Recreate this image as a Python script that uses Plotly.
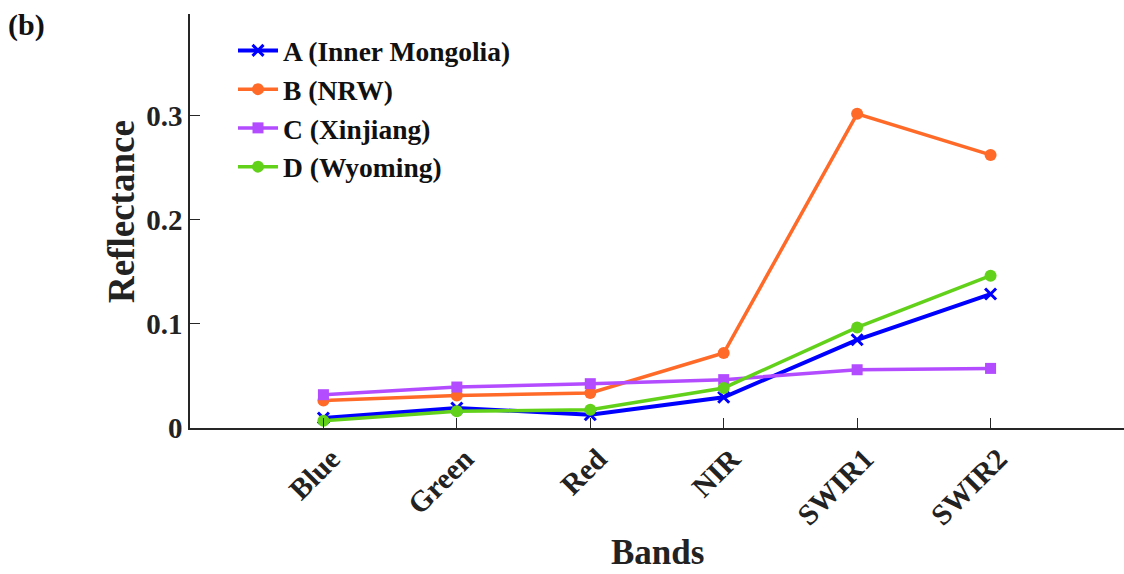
import plotly.graph_objects as go

# Landsat-style band names along the x axis
bands = ["Blue", "Green", "Red", "NIR", "SWIR1", "SWIR2"]
band_pos = [1, 2, 3, 4, 5, 6]

# Mean surface reflectance per band for each study site
site_a = [0.0096, 0.0192, 0.0128, 0.0295, 0.0848, 0.1288]
site_b = [0.0265, 0.0313, 0.0337, 0.0721, 0.3020, 0.2625]
site_c = [0.0320, 0.0394, 0.0426, 0.0465, 0.0560, 0.0573]
site_d = [0.0070, 0.0160, 0.0176, 0.0385, 0.0967, 0.1464]

site_names = ["A (Inner Mongolia)", "B (NRW)", "C (Xinjiang)", "D (Wyoming)"]
y_ticks = [0, 0.1, 0.2, 0.3]
y_tick_text = ["0", "0.1", "0.2", "0.3"]

FONT = "Liberation Serif, Times New Roman, serif"

styles = [
    dict(color="#0000FF", symbol="x-thin", size=11, width=4),
    dict(color="#FF6A28", symbol="circle", size=12, width=3.5),
    dict(color="#B34BFF", symbol="square", size=11, width=3.5),
    dict(color="#62D11A", symbol="circle", size=12, width=3.5),
]

fig = go.Figure()
for name, vals, st in zip(site_names, [site_a, site_b, site_c, site_d], styles):
    fig.add_trace(go.Scatter(
        x=band_pos, y=vals, name=name, mode="lines+markers",
        line=dict(color=st["color"], width=st["width"]),
        marker=dict(symbol=st["symbol"], size=st["size"], color=st["color"],
                    line=dict(color=st["color"], width=3 if st["symbol"] == "x-thin" else 0)),
    ))

W, H = 1124, 574
ml, mr, mt, mb = 190, 0, 14, 146
PW, PH = W - ml - mr, H - mt - mb

fig.update_layout(
    width=W, height=H,
    margin=dict(l=ml, r=mr, t=mt, b=mb, pad=0),
    paper_bgcolor="white", plot_bgcolor="white",
    font=dict(family=FONT, size=28, color="#222222", weight="bold"),
    showlegend=True,
    legend=dict(
        x=(233 - ml) / PW, xanchor="left",
        y=1 - (26 - mt) / PH, yanchor="top",
        bgcolor="rgba(0,0,0,0)", borderwidth=0,
        font=dict(family=FONT, size=27.5, color="#111111", weight="bold"),
        itemwidth=40, tracegroupgap=0,
    ),
    xaxis=dict(
        range=[0, 7], tickmode="array", tickvals=band_pos, ticktext=bands,
        tickangle=-45, ticks="inside", ticklen=10, tickwidth=1.2, tickcolor="#262626",
        ticklabelshift=8,
        showline=True, linecolor="#262626", linewidth=1.5, mirror=False,
        showgrid=False, zeroline=False,
        tickfont=dict(family=FONT, size=29.5, color="#222222", weight="bold"),
    ),
    yaxis=dict(
        range=[0, 0.398], tickmode="array", tickvals=y_ticks, ticktext=y_tick_text,
        ticks="inside", ticklen=10, tickwidth=1.2, tickcolor="#262626",
        showline=True, linecolor="#262626", linewidth=1.5, mirror=False,
        showgrid=False, zeroline=False,
        tickfont=dict(family=FONT, size=29, color="#222222", weight="bold"),
    ),
)

# Axis titles and panel label
fig.add_annotation(text="Bands", xref="paper", yref="paper",
                   x=0.5, y=-(552 - (H - mb)) / PH, xanchor="center", yanchor="middle",
                   showarrow=False, font=dict(family=FONT, size=35, color="#222222", weight="bold"))
fig.add_annotation(text="Reflectance", xref="paper", yref="paper",
                   x=-(ml - 121) / PW, y=1 - (212 - mt) / PH,
                   xanchor="center", yanchor="middle", textangle=-90,
                   showarrow=False, font=dict(family=FONT, size=37, color="#222222", weight="bold"))
fig.add_annotation(text="(b)", xref="paper", yref="paper",
                   x=-(ml - 6) / PW, y=1 - (25 - mt) / PH,
                   xanchor="left", yanchor="middle",
                   showarrow=False, font=dict(family=FONT, size=30, color="#111111", weight="bold"))

fig.write_html("out.html")
